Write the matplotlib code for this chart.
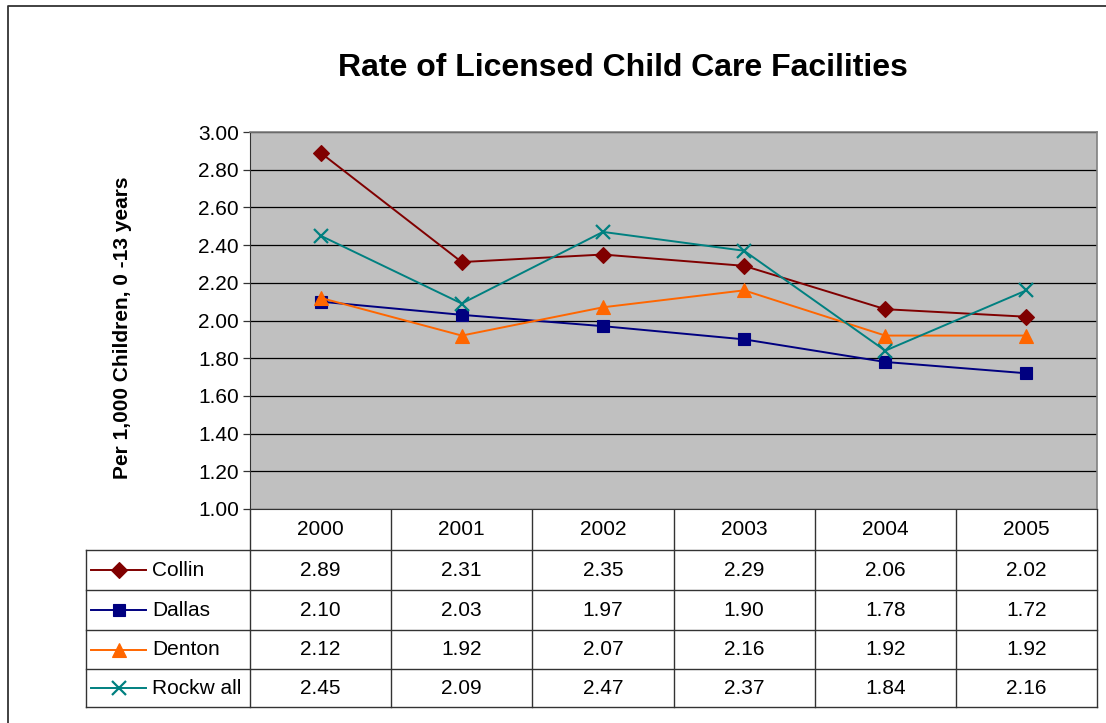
import matplotlib
matplotlib.use('Agg')
import matplotlib.pyplot as plt
from matplotlib.lines import Line2D

plt.rcParams['font.family'] = ['Liberation Sans', 'DejaVu Sans']

# data
years = ['2000', '2001', '2002', '2003', '2004', '2005']
series_names = ['Collin', 'Dallas', 'Denton', 'Rockw all']
collin = [2.89, 2.31, 2.35, 2.29, 2.06, 2.02]
dallas = [2.10, 2.03, 1.97, 1.90, 1.78, 1.72]
denton = [2.12, 1.92, 2.07, 2.16, 1.92, 1.92]
rockwall = [2.45, 2.09, 2.47, 2.37, 1.84, 2.16]
y_ticks = [1.0, 1.2, 1.4, 1.6, 1.8, 2.0, 2.2, 2.4, 2.6, 2.8, 3.0]

all_series = [collin, dallas, denton, rockwall]
colors = ['#800000', '#000080', '#FF6600', '#008080']
markers = ['D', 's', '^', 'x']
msizes = [8, 8, 10, 10]

W, H = 1106, 723
fig = plt.figure(figsize=(W / 100, H / 100), dpi=100)

# overlay in pixel coordinates for the frame and the data table
bg = fig.add_axes([0, 0, 1, 1])
bg.set_xlim(0, W)
bg.set_ylim(H, 0)
bg.axis('off')

# outer chart border (left and top visible)
bg.plot([8, 8, W], [H, 6, 6], color='#333333', lw=1.3)

# plot area
left, right, top, bottom = 250, 1097, 132, 509
ax = fig.add_axes([left / W, 1 - bottom / H, (right - left) / W, (bottom - top) / H])
ax.set_facecolor('#C0C0C0')
ax.set_xlim(-0.5, len(years) - 0.5)
ax.set_ylim(1.0, 3.0)
ax.set_yticks(y_ticks)
ax.set_yticklabels(['{:.2f}'.format(v) for v in y_ticks], fontsize=15)
ax.set_xticks([])
ax.yaxis.grid(True, color='black', lw=0.9)
ax.set_axisbelow(True)
ax.tick_params(axis='y', length=5, width=0.9, color='#333333', pad=3)
for side in ['top', 'right']:
    ax.spines[side].set_color('#808080')
    ax.spines[side].set_linewidth(1.2)
ax.spines['left'].set_color('#333333')
ax.spines['bottom'].set_color('#333333')

for vals, c, m, ms in zip(all_series, colors, markers, msizes):
    ax.plot(range(len(years)), vals, color=c, lw=1.4, marker=m, markersize=ms,
            markeredgewidth=1.6 if m == 'x' else 0.8, zorder=3)

bg.text(122, 328, 'Per 1,000 Children, 0 -13 years', rotation=90,
        ha='center', va='center', fontsize=15, fontweight='bold')

bg.text(623, 68, 'Rate of Licensed Child Care Facilities',
        ha='center', va='center', fontsize=23, fontweight='bold')

# data table
col_w = (right - left) / len(years)
row_edges = [bottom, 550, 590, 630, 669, 707]
tab_left = 86
for i, yv in enumerate(row_edges[1:]):
    bg.plot([tab_left, right], [yv, yv], color='#333333', lw=1)
bg.plot([tab_left, tab_left], [row_edges[1], row_edges[-1]], color='#333333', lw=1)
for j in range(len(years) + 1):
    xv = left + j * col_w
    bg.plot([xv, xv], [bottom, row_edges[-1]], color='#333333', lw=1)

for j, yr in enumerate(years):
    xc = left + (j + 0.5) * col_w
    bg.text(xc, (row_edges[0] + row_edges[1]) / 2, yr, ha='center', va='center', fontsize=15)
    for i, vals in enumerate(all_series):
        yc = (row_edges[i + 1] + row_edges[i + 2]) / 2
        bg.text(xc, yc, '{:.2f}'.format(vals[j]), ha='center', va='center', fontsize=15)

for i, (name, c, m, ms) in enumerate(zip(series_names, colors, markers, msizes)):
    yc = (row_edges[i + 1] + row_edges[i + 2]) / 2
    bg.add_line(Line2D([91, 146], [yc, yc], color=c, lw=1.4))
    bg.add_line(Line2D([118.5], [yc], color=c, marker=m, markersize=ms,
                       markeredgewidth=1.6 if m == 'x' else 0.8))
    bg.text(152, yc, name, ha='left', va='center', fontsize=15)

fig.savefig('out.png', dpi=100)
